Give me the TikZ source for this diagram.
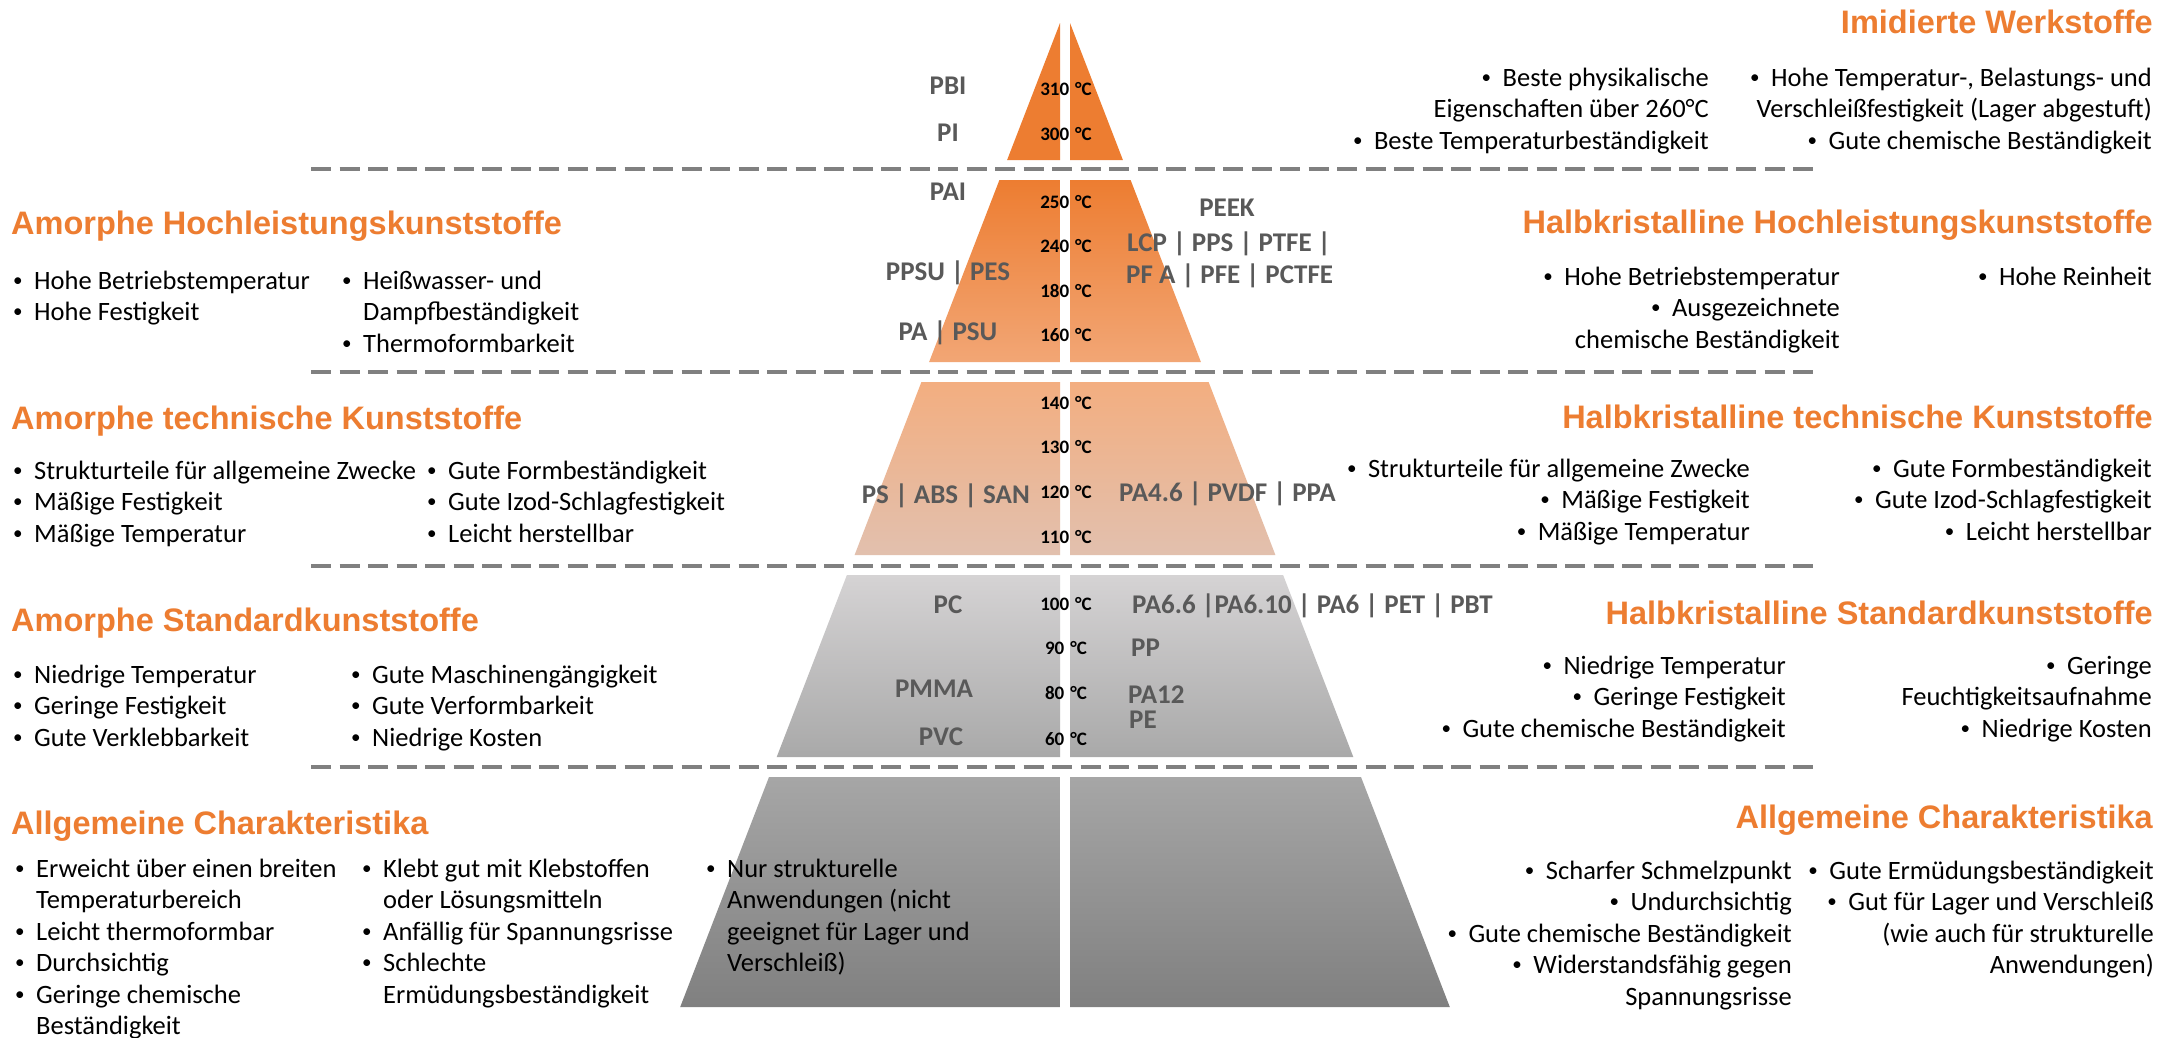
\documentclass[tikz,border=0pt]{standalone}
\usepackage{fontspec}
\usepackage{graphicx}
\setmainfont{Carlito}
\newfontfamily\hdfont{Liberation Sans}
\definecolor{orng}{HTML}{ED7D31}
\definecolor{lblgray}{HTML}{595959}
\definecolor{dashgray}{HTML}{808080}
\definecolor{stwobot}{HTML}{F2A675}
\definecolor{sthreetop}{HTML}{F3AE80}
\definecolor{sthreemid}{HTML}{F7C7A7}
\definecolor{sthreebot}{HTML}{E2C0AE}
\definecolor{sfourtop}{HTML}{D5D3D4}
\definecolor{sfourbot}{HTML}{A9A9A9}
\definecolor{sfivetop}{HTML}{A6A6A6}
\definecolor{sfivebot}{HTML}{808080}
\newcommand\bul{\makebox[22pt][l]{\hspace*{1pt}\raisebox{2.6pt}{\scalebox{0.72}{\textbullet}}}}
\newcommand\ind{\hspace*{22pt}}
\newcommand\tc[1]{#1\hspace{6pt}°C}
\tikzset{
  hdr/.style={inner sep=0pt, font=\hdfont\bfseries\fontsize{32.5}{36}\selectfont, text=orng},
  body/.style={inner sep=0pt, font=\fontsize{26.5}{31.5}\selectfont},
  lbl/.style={inner sep=0pt, font=\bfseries\fontsize{27}{30}\selectfont, text=lblgray},
  tmp/.style={inner sep=0pt, font=\bfseries\fontsize{19}{22}\selectfont, text=black, anchor=base},
  sepline/.style={draw=dashgray, line width=3.2pt, dash pattern=on 20pt off 8.5pt},
}
\begin{document}
\begin{tikzpicture}[x=1pt,y=-1pt]
\useasboundingbox (0,0) rectangle (2184,1037);
\fill[white] (0,0) rectangle (2184,1037);

% pyramid
\fill[orng] (1060,23) -- (1060,160) -- (1007.1,160) -- cycle;
\fill[orng] (1070,23) -- (1122.9,160) -- (1070,160) -- cycle;
\shade[top color=orng, bottom color=stwobot] (999.4,180) -- (1060,180) -- (1060,362) -- (929.1,362) -- cycle;
\shade[top color=orng, bottom color=stwobot] (1070,180) -- (1130.6,180) -- (1200.9,362) -- (1070,362) -- cycle;
\shade[top color=sthreetop, middle color=sthreemid, bottom color=sthreebot] (921.4,382) -- (1060,382) -- (1060,555) -- (854.6,555) -- cycle;
\shade[top color=sthreetop, middle color=sthreemid, bottom color=sthreebot] (1070,382) -- (1208.6,382) -- (1275.4,555) -- (1070,555) -- cycle;
\shade[top color=sfourtop, bottom color=sfourbot] (846.9,575) -- (1060,575) -- (1060,757) -- (776.7,757) -- cycle;
\shade[top color=sfourtop, bottom color=sfourbot] (1070,575) -- (1283.1,575) -- (1353.3,757) -- (1070,757) -- cycle;
\shade[top color=sfivetop, bottom color=sfivebot] (769,777) -- (1060,777) -- (1060,1007) -- (680.2,1007) -- cycle;
\shade[top color=sfivetop, bottom color=sfivebot] (1070,777) -- (1361,777) -- (1449.8,1007) -- (1070,1007) -- cycle;

% separators
\foreach \yy in {169,372,566,767} \draw[sepline] (311,\yy) -- (1818,\yy);

% temperatures
\node[tmp] (t1) at (1066,95.5) {\tc{310}};
\node[tmp] (t2) at (1066,140.5) {\tc{300}};
\node[tmp] (t3) at (1066,208.5) {\tc{250}};
\node[tmp] (t4) at (1066,252.5) {\tc{240}};
\node[tmp] (t5) at (1066,297.5) {\tc{180}};
\node[tmp] (t6) at (1066,341.5) {\tc{160}};
\node[tmp] (t7) at (1066,409.5) {\tc{140}};
\node[tmp] (t8) at (1066,453.5) {\tc{130}};
\node[tmp] (t9) at (1066,498.5) {\tc{120}};
\node[tmp] (t10) at (1066,543.5) {\tc{110}};
\node[tmp] (t11) at (1066,610.5) {\tc{100}};
\node[tmp] (t12) at (1066,654.5) {\tc{90}};
\node[tmp] (t13) at (1066,699.5) {\tc{80}};
\node[tmp] (t14) at (1066,745.5) {\tc{60}};

% material labels
\node[lbl, anchor=base] (l1) at (948,94.5) {PBI};
\node[lbl, anchor=base] (l2) at (948,141.5) {PI};
\node[lbl, anchor=base] (l3) at (948,200.5) {PAI};
\node[lbl, anchor=base] (l4) at (948,280.5) {PPSU | PES};
\node[lbl, anchor=base] (l5) at (948,340.5) {PA | PSU};
\node[lbl, anchor=base] (l6) at (1227,216.5) {PEEK};
\node[lbl, anchor=base west] (l7) at (1127,251.5) {LCP | PPS | PTFE |};
\node[lbl, anchor=base west] (l8) at (1126,283.5) {PF A | PFE | PCTFE};
\node[lbl, anchor=base east] (l9) at (1030,503.5) {PS | ABS | SAN};
\node[lbl, anchor=base west] (l10) at (1119,501.5) {PA4.6 | PVDF | PPA};
\node[lbl, anchor=base] (l11) at (948,613.5) {PC};
\node[lbl, anchor=base west] (l12) at (1132,613.5) {PA6.6 |PA6.10 | PA6 | PET | PBT};
\node[lbl, anchor=base west] (l13) at (1131,656.5) {PP};
\node[lbl, anchor=base] (l14) at (934,697.5) {PMMA};
\node[lbl, anchor=base west] (l15) at (1128,703.5) {PA12};
\node[lbl, anchor=base west] (l16) at (1129,728.5) {PE};
\node[lbl, anchor=base] (l17) at (941,745.5) {PVC};

% headers
\node[hdr, anchor=base east] (h1) at (2153,33) {Imidierte Werkstoffe};
\node[hdr, anchor=base west] (h2) at (11,234) {Amorphe Hochleistungskunststoffe};
\node[hdr, anchor=base east] (h3) at (2153,233) {Halbkristalline Hochleistungskunststoffe};
\node[hdr, anchor=base west] (h4) at (11,429) {Amorphe technische Kunststoffe};
\node[hdr, anchor=base east] (h5) at (2153,428) {Halbkristalline technische Kunststoffe};
\node[hdr, anchor=base west] (h6) at (11,631) {Amorphe Standardkunststoffe};
\node[hdr, anchor=base east] (h7) at (2153,624) {Halbkristalline Standardkunststoffe};
\node[hdr, anchor=base west] (h8) at (11,834) {Allgemeine Charakteristika};
\node[hdr, anchor=base east] (h9) at (2153,828) {Allgemeine Charakteristika};

% right blocks
\node[body, anchor=base east] (imA) at (1709,86) {\begin{tabular}[t]{@{}r@{}}\bul Beste physikalische\\ Eigenschaften über 260°C\\ \bul Beste Temperaturbeständigkeit\end{tabular}};
\node[body, anchor=base east] (imB) at (2152,86) {\begin{tabular}[t]{@{}r@{}}\bul Hohe Temperatur-, Belastungs- und\\ Verschleißfestigkeit (Lager abgestuft)\\ \bul Gute chemische Beständigkeit\end{tabular}};
\node[body, anchor=base east] (hhA) at (1840,285) {\begin{tabular}[t]{@{}r@{}}\bul Hohe Betriebstemperatur\\ \bul Ausgezeichnete\\ chemische Beständigkeit\end{tabular}};
\node[body, anchor=base east] (hhB) at (2152,285) {\begin{tabular}[t]{@{}r@{}}\bul Hohe Reinheit\end{tabular}};
\node[body, anchor=base east] (htA) at (1750,477) {\begin{tabular}[t]{@{}r@{}}\bul Strukturteile für allgemeine Zwecke\\ \bul Mäßige Festigkeit\\ \bul Mäßige Temperatur\end{tabular}};
\node[body, anchor=base east] (htB) at (2152,477) {\begin{tabular}[t]{@{}r@{}}\bul Gute Formbeständigkeit\\ \bul Gute Izod-Schlagfestigkeit\\ \bul Leicht herstellbar\end{tabular}};
\node[body, anchor=base east] (hsA) at (1786,674) {\begin{tabular}[t]{@{}r@{}}\bul Niedrige Temperatur\\ \bul Geringe Festigkeit\\ \bul Gute chemische Beständigkeit\end{tabular}};
\node[body, anchor=base east] (hsB) at (2152,674) {\begin{tabular}[t]{@{}r@{}}\bul Geringe\\ Feuchtigkeitsaufnahme\\ \bul Niedrige Kosten\end{tabular}};
\node[body, anchor=base east] (acA) at (1792,879) {\begin{tabular}[t]{@{}r@{}}\bul Scharfer Schmelzpunkt\\ \bul Undurchsichtig\\ \bul Gute chemische Beständigkeit\\ \bul Widerstandsfähig gegen\\ Spannungsrisse\end{tabular}};
\node[body, anchor=base east] (acB) at (2154,879) {\begin{tabular}[t]{@{}r@{}}\bul Gute Ermüdungsbeständigkeit\\ \bul Gut für Lager und Verschleiß\\ (wie auch für strukturelle\\ Anwendungen)\end{tabular}};

% left blocks
\node[body, anchor=base west] (ahA) at (12,289) {\begin{tabular}[t]{@{}l@{}}\bul Hohe Betriebstemperatur\\ \bul Hohe Festigkeit\end{tabular}};
\node[body, anchor=base west] (ahB) at (341,289) {\begin{tabular}[t]{@{}l@{}}\bul Heißwasser- und\\ \ind Dampfbeständigkeit\\ \bul Thermoformbarkeit\end{tabular}};
\node[body, anchor=base west] (atA) at (12,479) {\begin{tabular}[t]{@{}l@{}}\bul Strukturteile für allgemeine Zwecke\\ \bul Mäßige Festigkeit\\ \bul Mäßige Temperatur\end{tabular}};
\node[body, anchor=base west] (atB) at (426,479) {\begin{tabular}[t]{@{}l@{}}\bul Gute Formbeständigkeit\\ \bul Gute Izod-Schlagfestigkeit\\ \bul Leicht herstellbar\end{tabular}};
\node[body, anchor=base west] (asA) at (12,683) {\begin{tabular}[t]{@{}l@{}}\bul Niedrige Temperatur\\ \bul Geringe Festigkeit\\ \bul Gute Verklebbarkeit\end{tabular}};
\node[body, anchor=base west] (asB) at (350,683) {\begin{tabular}[t]{@{}l@{}}\bul Gute Maschinengängigkeit\\ \bul Gute Verformbarkeit\\ \bul Niedrige Kosten\end{tabular}};
\node[body, anchor=base west] (alA) at (14,877) {\begin{tabular}[t]{@{}l@{}}\bul Erweicht über einen breiten\\ \ind Temperaturbereich\\ \bul Leicht thermoformbar\\ \bul Durchsichtig\\ \bul Geringe chemische\\ \ind Beständigkeit\end{tabular}};
\node[body, anchor=base west] (alB) at (361,877) {\begin{tabular}[t]{@{}l@{}}\bul Klebt gut mit Klebstoffen\\ \ind oder Lösungsmitteln\\ \bul Anfällig für Spannungsrisse\\ \bul Schlechte\\ \ind Ermüdungsbeständigkeit\end{tabular}};
\node[body, anchor=base west] (alC) at (705,877) {\begin{tabular}[t]{@{}l@{}}\bul Nur strukturelle\\ \ind Anwendungen (nicht\\ \ind geeignet für Lager und\\ \ind Verschleiß)\end{tabular}};
\end{tikzpicture}
\end{document}
